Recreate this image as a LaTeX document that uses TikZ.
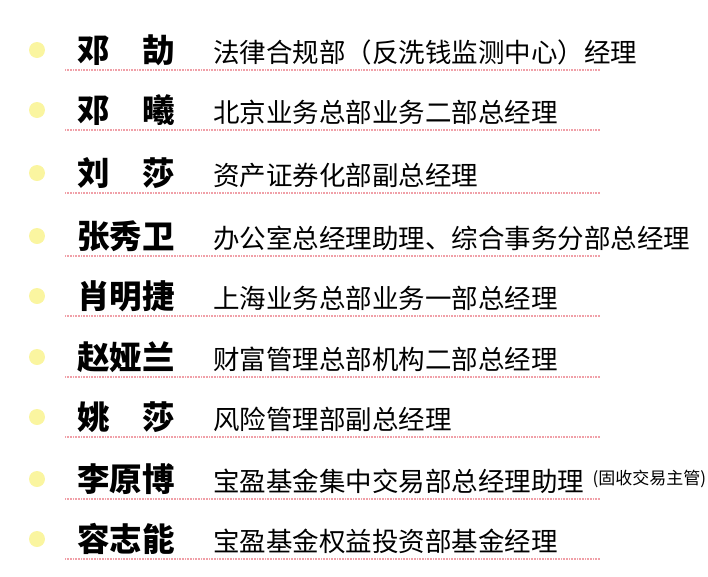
\documentclass[tikz,border=0pt]{standalone}
\usepackage{fontspec}
\newfontfamily\cjk{Noto Sans CJK SC}
\definecolor{bul}{HTML}{FAF5A0}
\definecolor{dotc}{HTML}{F0A0A8}
\begin{document}
\begin{tikzpicture}[x=1pt,y=-1pt,
  nm/.style={anchor=west,inner sep=0pt,font=\cjk\bfseries\fontsize{32.5}{32}\selectfont},
  job/.style={anchor=west,inner sep=0pt,font=\cjk\fontsize{26.5}{26}\selectfont},
  sm/.style={anchor=west,inner sep=0pt,font=\cjk\fontsize{17}{17}\selectfont},
  bullet/.style={circle,fill=bul,minimum size=16pt,inner sep=0pt},
  rule/.style={dotc,line width=1.3pt,dash pattern=on 1pt off 0.6pt}]
\useasboundingbox (0,0) rectangle (708,576);
\foreach \y/\n/\j [count=\i] in {
 50/{邓\hspace{1em}劼}/{法律合规部（反洗钱监测中心）经理},
 110/{邓\hspace{1em}曦}/{北京业务总部业务二部总经理},
 173/{刘\hspace{1em}莎}/{资产证券化部副总经理},
 236/{张秀卫}/{办公室总经理助理、综合事务分部总经理},
 296/{肖明捷}/{上海业务总部业务一部总经理},
 357/{赵娅兰}/{财富管理总部机构二部总经理},
 417/{姚\hspace{1em}莎}/{风险管理部副总经理},
 479/{李原博}/{宝盈基金集中交易部总经理助理},
 539/{容志能}/{宝盈基金权益投资部基金经理}}{
  \node[bullet] (b\i) at (37,\y) {};
  \node[nm] (n\i) at (77,\y) {\n};
  \node[job] (j\i) at (213,\y+2) {\j};
  \coordinate (l\i) at (65,\y+20);
  \coordinate (r\i) at (600,\y+20);
  \draw[rule] (l\i) -- (r\i);
}
\node[sm] (s8) at (j8.east) [xshift=8pt,yshift=2pt] {(固收交易主管)};
\end{tikzpicture}
\end{document}
